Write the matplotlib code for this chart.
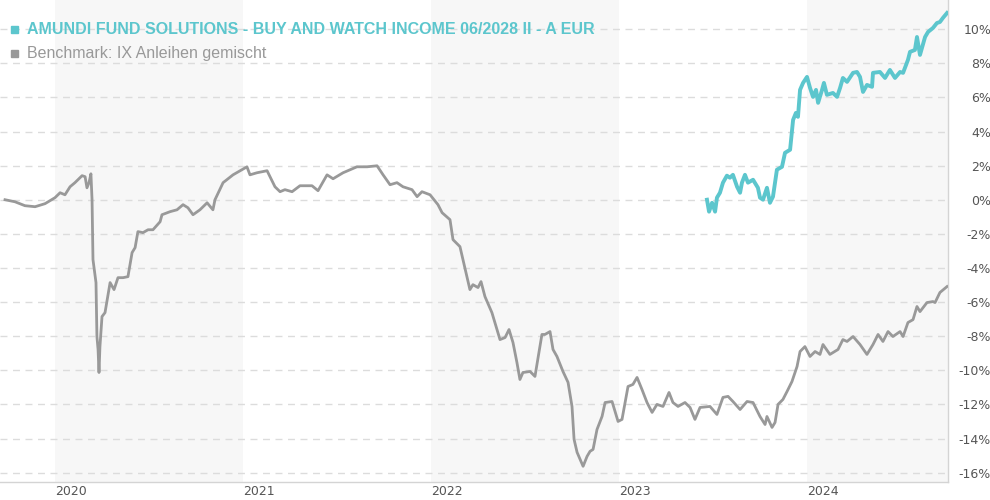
import matplotlib
matplotlib.use("Agg")
import matplotlib.pyplot as plt
from matplotlib.patches import Rectangle

# ---- data (decimal year, percent) ----
bench_t = [2019.734, 2019.787, 2019.840, 2019.894, 2019.947, 2020.000, 2020.027, 2020.053, 2020.080, 2020.106,
           2020.144, 2020.160, 2020.170, 2020.181, 2020.191, 2020.197, 2020.202, 2020.218, 2020.223, 2020.229,
           2020.234, 2020.239, 2020.250, 2020.266, 2020.293, 2020.314, 2020.335, 2020.362, 2020.388, 2020.410,
           2020.426, 2020.441, 2020.468, 2020.495, 2020.521, 2020.559, 2020.569, 2020.612, 2020.649, 2020.681,
           2020.707, 2020.734, 2020.771, 2020.809, 2020.840, 2020.851, 2020.894, 2020.947, 2021.021, 2021.037,
           2021.074, 2021.128, 2021.170, 2021.197, 2021.223, 2021.261, 2021.303, 2021.367, 2021.399, 2021.447,
           2021.479, 2021.532, 2021.606, 2021.660, 2021.713, 2021.745, 2021.782, 2021.819, 2021.851, 2021.899,
           2021.926, 2021.952, 2021.995, 2022.037, 2022.059, 2022.101, 2022.117, 2022.154, 2022.170, 2022.207,
           2022.223, 2022.250, 2022.266, 2022.287, 2022.324, 2022.351, 2022.367, 2022.394, 2022.415, 2022.436,
           2022.457, 2022.473, 2022.489, 2022.527, 2022.553, 2022.590, 2022.606, 2022.633, 2022.649, 2022.670,
           2022.702, 2022.729, 2022.750, 2022.761, 2022.777, 2022.793, 2022.809, 2022.830, 2022.846, 2022.862,
           2022.883, 2022.910, 2022.926, 2022.963, 2022.995, 2023.016, 2023.048, 2023.074, 2023.096, 2023.122,
           2023.149, 2023.176, 2023.202, 2023.234, 2023.266, 2023.287, 2023.314, 2023.351, 2023.378, 2023.404,
           2023.431, 2023.484, 2023.521, 2023.553, 2023.580, 2023.606, 2023.644, 2023.681, 2023.713, 2023.750,
           2023.777, 2023.787, 2023.814, 2023.830, 2023.846, 2023.872, 2023.894, 2023.920, 2023.947, 2023.963,
           2023.989, 2024.016, 2024.043, 2024.069, 2024.085, 2024.122, 2024.165, 2024.191, 2024.213, 2024.245,
           2024.282, 2024.319, 2024.351, 2024.378, 2024.404, 2024.431, 2024.457, 2024.495, 2024.511, 2024.537,
           2024.564, 2024.585, 2024.601, 2024.638, 2024.670, 2024.681, 2024.707, 2024.745]
bench_v = [0.00, -0.12, -0.35, -0.41, -0.23, 0.12, 0.41, 0.29, 0.76, 1.00,
           1.41, 1.35, 0.70, 1.00, 1.52, 0.00, -3.51, -4.86, -8.02, -8.78,
           -10.13, -8.61, -6.85, -6.62, -4.86, -5.27, -4.57, -4.57, -4.51, -3.10,
           -2.81, -1.87, -1.93, -1.76, -1.76, -1.29, -0.88, -0.70, -0.59, -0.29,
           -0.47, -0.88, -0.59, -0.18, -0.59, 0.00, 1.00, 1.46, 1.93, 1.46,
           1.58, 1.70, 0.76, 0.47, 0.59, 0.47, 0.82, 0.82, 0.53, 1.46,
           1.23, 1.58, 1.93, 1.93, 1.99, 1.46, 0.88, 1.00, 0.76, 0.59,
           0.18, 0.47, 0.29, -0.29, -0.76, -1.17, -2.34, -2.75, -3.51, -5.27,
           -4.98, -5.15, -4.80, -5.68, -6.62, -7.61, -8.20, -8.08, -7.61, -8.37,
           -9.54, -10.54, -10.13, -10.07, -10.36, -7.90, -7.90, -7.73, -8.78, -9.19,
           -10.07, -10.71, -12.12, -14.05, -14.81, -15.22, -15.63, -15.05, -14.75, -14.64,
           -13.47, -12.70, -11.89, -11.83, -13.00, -12.88, -10.95, -10.83, -10.42, -11.12,
           -11.89, -12.47, -12.00, -12.12, -11.30, -11.89, -12.12, -11.89, -12.18, -12.88,
           -12.18, -12.12, -12.59, -11.59, -11.53, -11.83, -12.30, -11.83, -11.89, -12.71,
           -13.18, -12.71, -13.35, -13.06, -12.00, -11.71, -11.24, -10.66, -9.78, -8.90,
           -8.61, -9.19, -8.90, -9.07, -8.49, -9.07, -8.78, -8.20, -8.31, -8.02,
           -8.49, -9.07, -8.49, -7.90, -8.31, -7.73, -8.02, -7.73, -8.02, -7.20,
           -7.03, -6.26, -6.56, -6.03, -5.97, -6.03, -5.44, -5.09]

fund_t = [2023.468, 2023.479, 2023.495, 2023.511, 2023.521, 2023.537, 2023.553, 2023.574, 2023.590, 2023.606,
          2023.628, 2023.644, 2023.654, 2023.670, 2023.686, 2023.713, 2023.739, 2023.750, 2023.766, 2023.787,
          2023.803, 2023.819, 2023.840, 2023.867, 2023.883, 2023.910, 2023.926, 2023.941, 2023.952, 2023.963,
          2023.979, 2024.000, 2024.016, 2024.032, 2024.048, 2024.059, 2024.080, 2024.090, 2024.106, 2024.138,
          2024.160, 2024.176, 2024.191, 2024.213, 2024.245, 2024.266, 2024.282, 2024.298, 2024.319, 2024.346,
          2024.351, 2024.388, 2024.415, 2024.441, 2024.468, 2024.495, 2024.511, 2024.537, 2024.548, 2024.574,
          2024.585, 2024.601, 2024.628, 2024.644, 2024.670, 2024.691, 2024.707, 2024.723, 2024.745]
fund_v = [0.00, -0.70, -0.18, -0.70, 0.12, 0.41, 1.00, 1.41, 1.29, 1.46,
          0.76, 0.41, 1.00, 1.46, 1.00, 1.17, 0.70, 0.12, 0.00, 0.70,
          -0.18, 0.18, 1.76, 1.93, 2.75, 2.93, 4.68, 5.09, 4.86, 6.44,
          6.85, 7.20, 6.56, 6.03, 6.44, 5.68, 6.44, 6.85, 6.15, 6.26,
          6.03, 6.56, 7.14, 6.91, 7.44, 7.49, 7.20, 6.32, 6.73, 6.62,
          7.44, 7.49, 7.14, 7.61, 7.14, 7.49, 7.44, 8.20, 8.67, 8.78,
          9.54, 8.49, 9.54, 9.84, 10.07, 10.36, 10.42, 10.66, 10.95]

years = [2020, 2021, 2022, 2023, 2024]
shaded_years = [2020, 2022, 2024]
y_ticks = list(range(-16, 11, 2))
fund_name = "AMUNDI FUND SOLUTIONS - BUY AND WATCH INCOME 06/2028 II - A EUR"
bench_name = "Benchmark: IX Anleihen gemischt"

TEAL = "#5cc6cd"
GRAY = "#999999"

fig = plt.figure(figsize=(9.9, 5.0), dpi=100)
ax = fig.add_axes([0.0, 18 / 500, 948 / 990, 482 / 500])

ax.set_xlim(2019.7074, 2024.75)
ax.set_ylim(-16.55, 11.71)

for yr in shaded_years:
    ax.axvspan(yr, yr + 1, color="#f7f7f7", zorder=0, lw=0)

for v in y_ticks:
    ax.axhline(v, color="#dcdcdc", lw=1.0, ls=(0, (5, 4)), zorder=1)

ax.plot(bench_t, bench_v, color=GRAY, lw=2.0, zorder=3, solid_joinstyle="round")
ax.plot(fund_t, fund_v, color=TEAL, lw=2.8, zorder=4, solid_joinstyle="round")

for s in ["top", "left"]:
    ax.spines[s].set_visible(False)
for s in ["right", "bottom"]:
    ax.spines[s].set_color("#d4d4d4")
    ax.spines[s].set_linewidth(1.0)

ax.yaxis.tick_right()
ax.set_yticks(y_ticks)
ax.set_yticklabels([f"{v}%" for v in y_ticks], fontsize=9, color="#555555",
                   family="DejaVu Sans")
for lab in ax.get_yticklabels():
    lab.set_horizontalalignment("right")
ax.tick_params(axis="y", length=0, pad=31)

ax.set_xticks(years)
ax.set_xticklabels([str(y) for y in years], fontsize=9, color="#555555", family="DejaVu Sans")
for lab in ax.get_xticklabels():
    lab.set_horizontalalignment("left")
ax.tick_params(axis="x", length=0, pad=2)

# legend-like header
fig.patches.append(Rectangle((11 / 990, 1 - 33 / 500), 7 / 990, 7 / 500,
                             transform=fig.transFigure, color=TEAL, zorder=5))
fig.patches.append(Rectangle((11 / 990, 1 - 57 / 500), 7 / 990, 7 / 500,
                             transform=fig.transFigure, color=GRAY, zorder=5))
fig.text(27 / 990, 1 - 29.5 / 500, fund_name, color=TEAL, fontsize=11.5, fontweight="bold",
         family="Liberation Sans", va="center", ha="left")
fig.text(27 / 990, 1 - 53.5 / 500, bench_name, color=GRAY, fontsize=11.5,
         family="Liberation Sans", va="center", ha="left")

fig.savefig("out.png", dpi=100)
